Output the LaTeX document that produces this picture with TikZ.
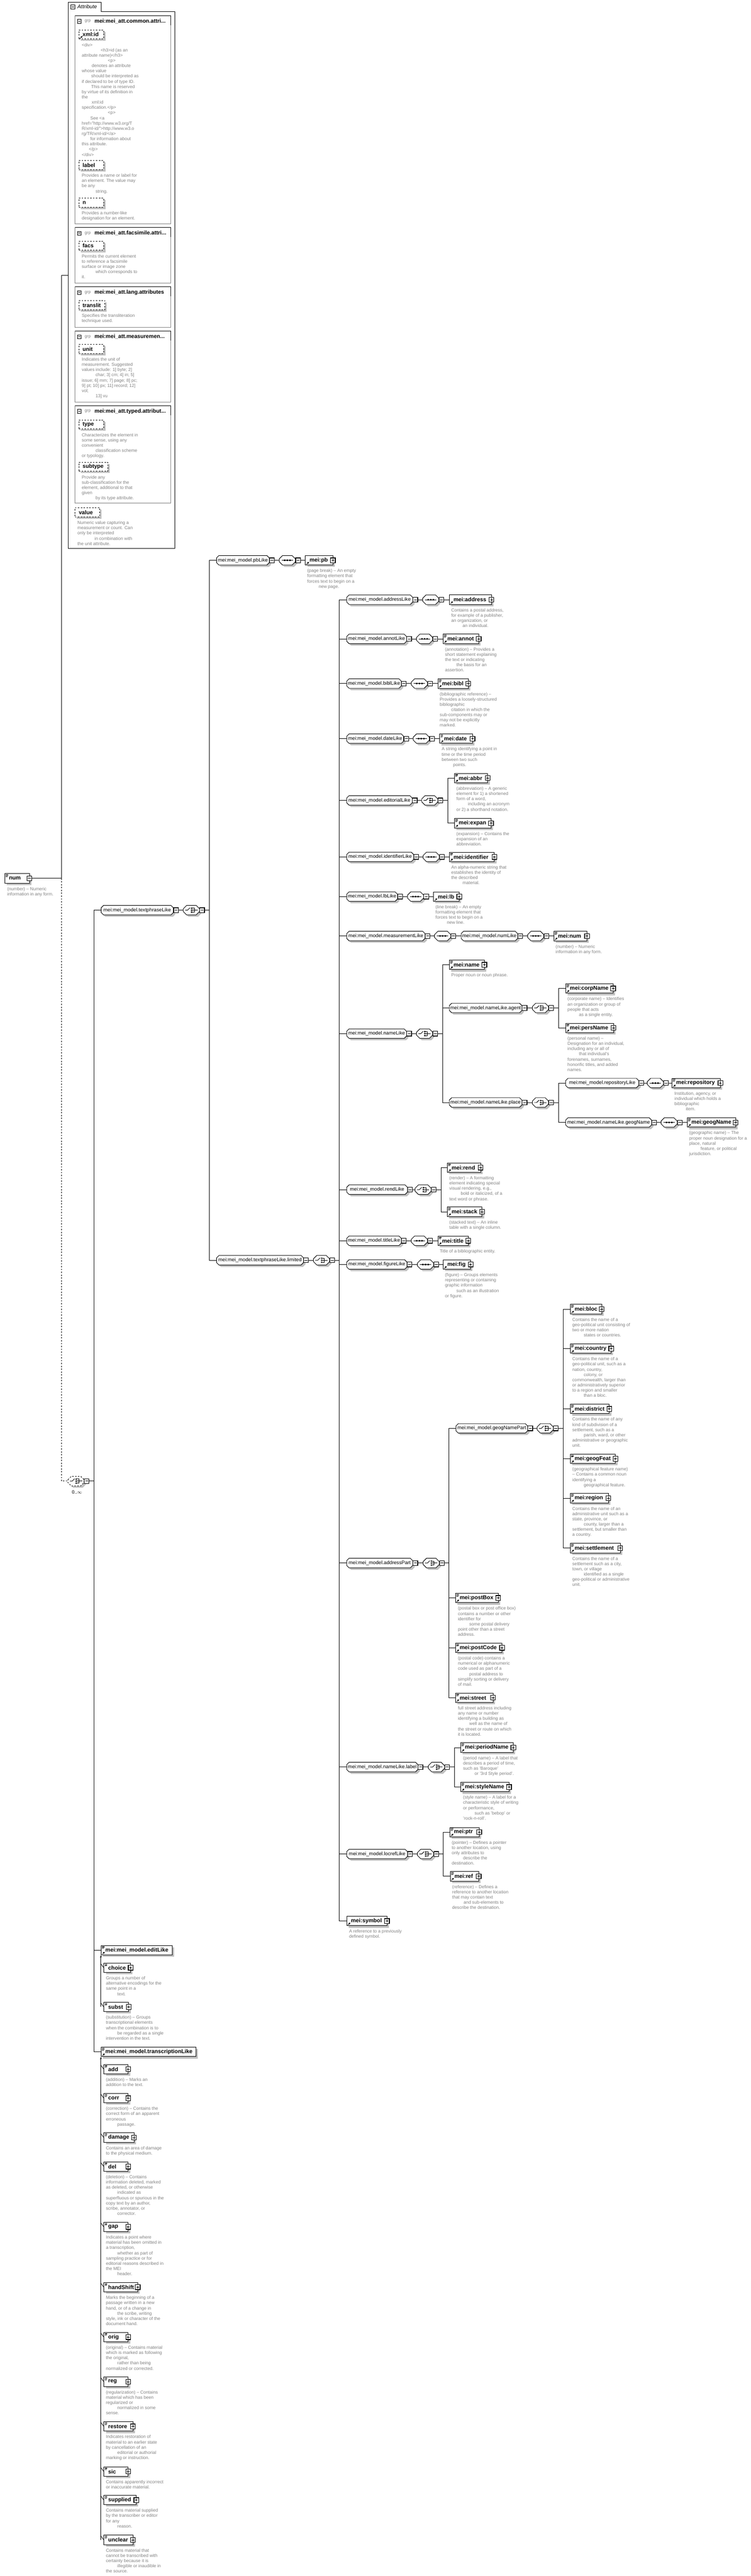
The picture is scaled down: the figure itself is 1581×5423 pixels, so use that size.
\documentclass[tikz,border=0pt]{standalone}
\usepackage{fontspec}
\setmainfont{Liberation Sans}
\usetikzlibrary{arrows.meta}
\definecolor{shd}{RGB}{192,192,192}
\definecolor{dsc}{RGB}{128,128,128}
\tikzset{
 lw/.style={line width=1pt},
 pmbox/.style={draw, line width=1.3pt, fill=white, minimum width=10pt, minimum height=10pt, inner sep=0pt},
 grpn/.style={inner sep=0pt, minimum height=20pt, font=\fontsize{10.5}{12}\selectfont},
 eln/.style={draw, line width=1pt, fill=white, inner sep=0pt, minimum height=20pt, align=left, font=\bfseries\fontsize{11.7}{13}\selectfont},
 attn/.style={draw, dashed, line width=1pt, fill=white, inner sep=0pt, minimum height=19pt, align=left, font=\bfseries\fontsize{11.5}{13}\selectfont},
 dscn/.style={inner sep=0pt, anchor=north west, align=left, text=dsc, font=\fontsize{9.3}{11}\selectfont},
}
\newcommand\ind{\hspace*{24pt}}
\newcommand\aind{\hspace*{29pt}}
\newcommand\LN[2]{\draw[lw] (#1) -- (#2);}
\newcommand\MINUS[3]{\node[pmbox] (#1) at (#2,#3) {};\draw[line width=1pt] (#2-3,#3) -- (#2+3,#3);}
\newcommand\PLUS[3]{\node[pmbox] (#1) at (#2,#3) {};\draw[line width=1pt] (#2-3,#3) -- (#2+3,#3) (#2,#3-3) -- (#2,#3+3);}
\newcommand\GRP[5]{%
 \fill[shd,shift={(4,4)}] (#2,#4-5) -- (#2+5,#4-10) -- (#3-5,#4-10) -- (#3,#4-5) -- (#3,#4+5) -- (#3-5,#4+10) -- (#2+5,#4+10) -- (#2,#4+5) -- cycle;
 \filldraw[lw,fill=white] (#2,#4-5) -- (#2+5,#4-10) -- (#3-5,#4-10) -- (#3,#4-5) -- (#3,#4+5) -- (#3-5,#4+10) -- (#2+5,#4+10) -- (#2,#4+5) -- cycle;
 \pgfmathsetmacro\ewid{#3-#2}%
 \node[grpn,minimum width=\ewid pt] (#1) at ({(#2+#3)/2},#4) {#5};
 \MINUS{#1m}{#3+5.5}{#4}}
\newcommand\COMPO[4][]{%
 \fill[shd,shift={(4,4)}] (#3,#4-3) -- (#3+7,#4-10) -- (#3+27,#4-10) -- (#3+34,#4-3) -- (#3+34,#4+3) -- (#3+27,#4+10) -- (#3+7,#4+10) -- (#3,#4+3) -- cycle;
 \filldraw[lw,fill=white,#1] (#3,#4-3) -- (#3+7,#4-10) -- (#3+27,#4-10) -- (#3+34,#4-3) -- (#3+34,#4+3) -- (#3+27,#4+10) -- (#3+7,#4+10) -- (#3,#4+3) -- cycle;
 \node[inner sep=0pt,minimum width=34pt,minimum height=20pt] (#2) at (#3+17,#4) {};
 \MINUS{#2m}{#3+39.5}{#4}}
\newcommand\SEQ[3]{\COMPO{#1}{#2}{#3}%
 \draw[lw] (#2+5,#3) -- (#2+29,#3);
 \fill (#2+10,#3-1.5) rectangle ++(3,3) (#2+15.5,#3-1.5) rectangle ++(3,3) (#2+21,#3-1.5) rectangle ++(3,3);}
\newcommand\CHO[4][]{\COMPO[#1]{#2}{#3}{#4}%
 \draw[lw] (#3+4,#4) -- (#3+9,#4) -- (#3+14,#4-5);
 \fill (#3+16,#4-5.5) rectangle ++(2.6,2.6) (#3+16,#4-1.3) rectangle ++(2.6,2.6) (#3+16,#4+2.9) rectangle ++(2.6,2.6);
 \draw[lw] (#3+19,#4-4.2) -- (#3+23,#4-4.2) -- (#3+23,#4+4.2) -- (#3+19,#4+4.2) (#3+19,#4) -- (#3+30,#4);}
\makeatletter
\newcommand\ELM[6]{%
 \fill[shd] (#2+4,#4-6) rectangle (#3+4,#4+14);
 \pgfmathsetmacro\ewid{#3-#2}%
 \node[eln,text width=\ewid pt] (#1) at ({(#2+#3)/2},#4) {\hspace*{9pt}#5};
 \in@{d}{#6}\ifin@\draw[line width=0.7pt] (#2+2,#4-8) -- (#2+7,#4-8) (#2+2,#4-6) -- (#2+7,#4-6) (#2+2,#4-4) -- (#2+6,#4-4);\fi
 \in@{a}{#6}\ifin@\draw[line width=0.9pt] (#2+2.5,#4+8.5) -- (#2+5,#4+6);\fill (#2+7.5,#4+3.5) -- (#2+3.5,#4+4.5) -- (#2+6.5,#4+7.5) -- cycle;\fi
 \in@{p}{#6}\ifin@\PLUS{#1p}{#3}{#4}\fi
 \in@{m}{#6}\ifin@\MINUS{#1p}{#3}{#4}\fi}
\newcommand\ATT[6]{%
 \fill[shd] (#2+4,#4+4) rectangle (#3+4,#4+23);
 \pgfmathsetmacro\ewid{#3-#2}%
 \node[attn,text width=\ewid pt] (#1) at ({(#2+#3)/2},#4+9.5) {\hspace*{8pt}#5};
 \in@{a}{#6}\ifin@\draw[line width=0.9pt] (#2+2.5,#4+18) -- (#2+5,#4+15.5);\fill (#2+7.5,#4+13) -- (#2+3.5,#4+14) -- (#2+6.5,#4+17) -- cycle;\fi}
\makeatother
\newcommand\DSC[4]{\node[dscn] (#1) at (#2,#3+17.3) {\strut#4};}
\newcommand\TR[3]{\draw[lw] (#2.east) -- ++(9.5,0) coordinate (#1);\foreach \c in {#3}{\draw[lw] (#1) |- (\c.west);}}
\newcommand\GB[4]{%
 \draw[lw,draw=dsc] (158,#2) rectangle (360,#3);
 \draw[lw] (158,#2) -- (360,#2) -- (360,#2+20);
 \draw[lw,fill=white] (163,#2+8) rectangle (171,#2+16);\draw[lw] (165,#2+12) -- (169,#2+12);
 \node[anchor=west,inner sep=0pt,text=dsc,font=\fontsize{9}{11}\selectfont] (#1g) at (178,#2+12) {grp};
 \node[anchor=west,inner sep=0pt,font=\bfseries\fontsize{11.5}{13}\selectfont] (#1) at (199,#2+12) {#4};}
\newcommand\SUB[5]{\ELM{#1}{219}{#2}{#3}{#4}{dp}\draw[lw] (#1.west) -- ++(-6,-8);\DSC{#1d}{223}{#3}{#5}}
\begin{document}
\begin{tikzpicture}[x=1pt,y=-1pt]
\useasboundingbox (0,0) rectangle (1581,5423);
% ---------------- attribute box
\draw[lw] (144,1155) -- (144,5) -- (213,5) -- (213,24) -- (368,24) -- (368,1155) -- cycle;
\node[inner sep=0pt,minimum width=224pt,minimum height=1150pt] (attr) at (256,580) {};
\draw[lw,fill=white] (149,10) rectangle (158,19);\draw[lw] (151,14.5) -- (156,14.5);
\node[anchor=west,inner sep=0pt,font=\itshape\fontsize{11}{13}\selectfont] (attrt) at (163,14.5) {Attribute};
\GB{g1}{33}{471}{mei:mei\_att.common.attri...}
\GB{g2}{479}{596}{mei:mei\_att.facsimile.attri...}
\GB{g3}{604}{689}{mei:mei\_att.lang.attributes}
\GB{g4}{697}{846}{mei:mei\_att.measuremen...}
\GB{g5}{854}{1059}{mei:mei\_att.typed.attribut...}
\ATT{axmlid}{166}{218}{63}{xml:id}{a}
\DSC{axmlidd}{172}{72.5}{<div>\\\hspace*{40pt}<h3>id (as an\\attribute name)</h3>\\\hspace*{55pt}<p>\\\hspace*{21pt}denotes an attribute\\whose value\\\hspace*{20pt}should be interpreted as\\if declared to be of type ID.\\\hspace*{20pt}This name is reserved\\by virtue of its definition in\\the\\\hspace*{21pt}xml:id\\specification.</p>\\\hspace*{55pt}<p>\\\hspace*{18pt}See <a\\href="http://www.w3.org/T\\R/xml-id/">http://www.w3.o\\rg/TR/xml-id/</a>\\\hspace*{18pt}for information about\\this attribute.\\\hspace*{15pt}</p>\\</div>}
\ATT{alabel}{166}{218}{338}{label}{}
\DSC{alabeld}{172}{347.5}{Provides a name or label for\\an element. The value may\\be any\\\aind string.}
\ATT{an}{166}{218}{417}{n}{}
\DSC{and}{172}{426.5}{Provides a number-like\\designation for an element.}
\ATT{afacs}{166}{218}{508}{facs}{}
\DSC{afacsd}{172}{517.5}{Permits the current element\\to reference a facsimile\\surface or image zone\\\aind which corresponds to\\it.}
\ATT{atranslit}{166}{221}{633}{translit}{}
\DSC{atranslitd}{172}{642.5}{Specifies the transliteration\\technique used.}
\ATT{aunit}{166}{218}{725}{unit}{}
\DSC{aunitd}{172}{734.5}{Indicates the unit of\\measurement. Suggested\\values include: 1] byte; 2]\\\aind char; 3] cm; 4] in; 5]\\issue; 6] mm; 7] page; 8] pc;\\9] pt; 10] px; 11] record; 12]\\vol;\\\aind 13] vu}
\ATT{atype}{166}{218}{884}{type}{}
\DSC{atyped}{172}{893.5}{Characterizes the element in\\some sense, using any\\convenient\\\aind classification scheme\\or typology.}
\ATT{asubtype}{166}{227}{973}{subtype}{}
\DSC{asubtyped}{172}{982.5}{Provide any\\sub-classification for the\\element, additional to that\\given\\\aind by its type attribute.}
\ATT{avalue}{158}{210}{1069}{value}{}
\DSC{avalued}{163}{1078.5}{Numeric value capturing a\\measurement or count. Can\\only be interpreted\\\hspace*{36pt}in combination with\\the unit attribute.}
% ---------------- root
\ELM{num}{10}{62}{1849}{num}{dm}
\DSC{numd}{15}{1849}{(number) -- Numeric\\information in any form.}
\coordinate (j1) at (129.5,580);
\coordinate (j2) at (129.5,1849);
\draw[lw] (attr.west) -- (j1) -- (j2) -- (nump.east);
\CHO[dashed]{c0}{143}{3118}
\node[inner sep=0pt,font=\fontsize{10}{12}\selectfont] (c0t) at (162,3141) {0..$\infty$};
\draw[lw,dashed] (j2) |- (c0.west);
% ---------------- first column
\GRP{tpl}{213}{365}{1916}{mei:mei\_model.textphraseLike}
\CHO{tplc}{386}{1916}
\LN{tplm.east}{tplc.west}
\ELM{edl}{213}{363}{4105.5}{mei:mei\_model.editLike}{da}
\ELM{trl}{213}{413}{4319.5}{mei:mei\_model.transcriptionLike}{da}
\TR{t0}{c0m}{tpl,edl,trl}
% ---------------- second column
\GRP{pbl}{456}{567}{1179.5}{mei:mei\_model.pbLike}
\SEQ{pbls}{588}{1179.5}
\ELM{pb}{643}{701}{1179.5}{mei:pb}{ap}
\DSC{pbd}{647}{1179.5}{(page break) -- An empty\\formatting element that\\forces text to begin on a\\\ind new page.}
\LN{pblm.east}{pbls.west}\LN{pblsm.east}{pb.west}
\GRP{tpll}{456}{639}{2653}{mei:mei\_model.textphraseLike.limited}
\CHO{tpllc}{660}{2653}
\LN{tpllm.east}{tpllc.west}
\TR{t1}{tplcm}{pbl,tpll}
% ---------------- third column
\GRP{adl}{730}{869}{1262.5}{mei:mei\_model.addressLike}
\SEQ{adls}{890}{1262.5}
\ELM{address}{946}{1035}{1262.5}{mei:address}{ap}
\DSC{addressd}{950}{1262.5}{Contains a postal address,\\for example of a publisher,\\an organization, or\\\ind an individual.}
\LN{adlm.east}{adls.west}\LN{adlsm.east}{address.west}
\GRP{anl}{730}{856}{1345}{mei:mei\_model.annotLike}
\SEQ{anls}{877}{1345}
\ELM{annot}{933}{1008}{1345}{mei:annot}{dap}
\DSC{annotd}{937}{1345}{(annotation) -- Provides a\\short statement explaining\\the text or indicating\\\ind the basis for an\\assertion.}
\LN{anlm.east}{anls.west}\LN{anlsm.east}{annot.west}
\GRP{bbl}{730}{845}{1439}{mei:mei\_model.biblLike}
\SEQ{bbls}{866}{1439}
\ELM{bibl}{922}{986}{1439}{mei:bibl}{dap}
\DSC{bibld}{926}{1439}{(bibliographic reference) --\\Provides a loosely-structured\\bibliographic\\\ind citation in which the\\sub-components may or\\may not be explicitly\\marked.}
\LN{bblm.east}{bbls.west}\LN{bblsm.east}{bibl.west}
\GRP{dtl}{730}{850}{1555}{mei:mei\_model.dateLike}
\SEQ{dtls}{870}{1555}
\ELM{date}{926}{995}{1555}{mei:date}{dap}
\DSC{dated}{930}{1555}{A string identifying a point in\\time or the time period\\between two such\\\ind points.}
\LN{dtlm.east}{dtls.west}\LN{dtlsm.east}{date.west}
\GRP{edtl}{730}{868}{1685}{mei:mei\_model.editorialLike}
\CHO{edtlc}{888}{1685}
\LN{edtlm.east}{edtlc.west}
\ELM{abbr}{957}{1027}{1638}{mei:abbr}{dap}
\DSC{abbrd}{961}{1638}{(abbreviation) -- A generic\\element for 1) a shortened\\form of a word,\\\ind including an acronym\\or 2) a shorthand notation.}
\ELM{expan}{957}{1034}{1733}{mei:expan}{dap}
\DSC{expand}{961}{1733}{(expansion) -- Contains the\\expansion of an\\abbreviation.}
\TR{t3}{edtlcm}{abbr,expan}
\GRP{idl}{730}{871}{1804}{mei:mei\_model.identifierLike}
\SEQ{idls}{891}{1804}
\ELM{ident}{946}{1041}{1804}{mei:identifier}{dap}
\DSC{identd}{950}{1804}{An alpha-numeric string that\\establishes the identity of\\the described\\\ind material.}
\LN{idlm.east}{idls.west}\LN{idlsm.east}{ident.west}
\GRP{lbl}{730}{837}{1887.5}{mei:mei\_model.lbLike}
\SEQ{lbls}{858}{1887.5}
\ELM{lb}{913}{967}{1887.5}{mei:lb}{ap}
\DSC{lbd}{917}{1887.5}{(line break) -- An empty\\formatting element that\\forces text to begin on a\\\ind new line.}
\LN{lblm.east}{lbls.west}\LN{lblsm.east}{lb.west}
\GRP{msl}{730}{895}{1970.5}{mei:mei\_model.measurementLike}
\SEQ{msls}{915}{1970.5}
\GRP{nml}{971}{1090}{1970.5}{mei:mei\_model.numLike}
\SEQ{nmls}{1111}{1970.5}
\ELM{mnum}{1166}{1236}{1970.5}{mei:num}{dap}
\DSC{mnumd}{1170}{1970.5}{(number) -- Numeric\\information in any form.}
\LN{mslm.east}{msls.west}\LN{mslsm.east}{nml.west}\LN{nmlm.east}{nmls.west}\LN{nmlsm.east}{mnum.west}
\GRP{nal}{730}{856}{2176}{mei:mei\_model.nameLike}
\CHO{nalc}{877}{2176}
\LN{nalm.east}{nalc.west}
\ELM{name}{946}{1020}{2031}{mei:name}{dap}
\DSC{named}{950}{2031}{Proper noun or noun phrase.}
\GRP{naag}{946}{1099}{2122}{mei:mei\_model.nameLike.agent}
\CHO{naagc}{1121}{2122}
\LN{naagm.east}{naagc.west}
\ELM{corp}{1191}{1291}{2081}{mei:corpName}{dap}
\DSC{corpd}{1195}{2081}{(corporate name) -- Identifies\\an organization or group of\\people that acts\\\ind as a single entity.}
\ELM{pers}{1191}{1292}{2164}{mei:persName}{dap}
\DSC{persd}{1195}{2164}{(personal name) --\\Designation for an individual,\\including any or all of\\\ind that individual's\\forenames, surnames,\\honorific titles, and added\\names.}
\TR{t5}{naagcm}{corp,pers}
\GRP{napl}{946}{1099}{2321}{mei:mei\_model.nameLike.place}
\CHO{naplc}{1121}{2321}
\LN{naplm.east}{naplc.west}
\GRP{repl}{1191}{1345}{2280}{mei:mei\_model.repositoryLike}
\SEQ{repls}{1363}{2280}
\ELM{repo}{1415}{1517}{2280}{mei:repository}{dap}
\DSC{repod}{1420}{2280}{Institution, agency, or\\individual which holds a\\bibliographic\\\ind item.}
\LN{replm.east}{repls.west}\LN{replsm.east}{repo.west}
\GRP{geol}{1191}{1372}{2363}{mei:mei\_model.nameLike.geogName}
\SEQ{geols}{1392}{2363}
\ELM{geog}{1447}{1549}{2363}{mei:geogName}{dap}
\DSC{geogd}{1451}{2363}{(geographic name) -- The\\proper noun designation for a\\place, natural\\\ind feature, or political\\jurisdiction.}
\LN{geolm.east}{geols.west}\LN{geolsm.east}{geog.west}
\TR{t6}{naplcm}{repl,geol}
\TR{t4}{nalcm}{name,naag,napl}
\GRP{rdl}{730}{858}{2504.5}{mei:mei\_model.rendLike}
\CHO{rdlc}{874}{2504.5}
\LN{rdlm.east}{rdlc.west}
\ELM{rend}{942}{1012}{2458}{mei:rend}{dap}
\DSC{rendd}{946}{2458}{(render) -- A formatting\\element indicating special\\visual rendering, e.g.,\\\ind bold or italicized, of a\\text word or phrase.}
\ELM{stack}{942}{1015}{2551}{mei:stack}{dap}
\DSC{stackd}{946}{2551}{(stacked text) -- An inline\\table with a single column.}
\TR{t7}{rdlcm}{rend,stack}
\GRP{ttl}{730}{845}{2612}{mei:mei\_model.titleLike}
\SEQ{ttls}{866}{2612}
\ELM{title}{922}{986}{2612}{mei:title}{dap}
\DSC{titled}{926}{2612}{Title of a bibliographic entity.}
\LN{ttlm.east}{ttls.west}\LN{ttlsm.east}{title.west}
\GRP{fgl}{730}{857}{2662}{mei:mei\_model.figureLike}
\SEQ{fgls}{879}{2662}
\ELM{fig}{933}{991}{2662}{mei:fig}{ap}
\DSC{figd}{937}{2662}{(figure) -- Groups elements\\representing or containing\\graphic information\\\ind such as an illustration\\or figure.}
\LN{fglm.east}{fgls.west}\LN{fglsm.east}{fig.west}
\GRP{apl}{730}{869}{3290.5}{mei:mei\_model.addressPart}
\CHO{aplc}{891}{3290.5}
\LN{aplm.east}{aplc.west}
\GRP{gnp}{960}{1111}{3007}{mei:mei\_model.geogNamePart}
\CHO{gnpc}{1131}{3007}
\LN{gnpm.east}{gnpc.west}
\ELM{bloc}{1201}{1267}{2756}{mei:bloc}{dap}
\DSC{blocd}{1205}{2756}{Contains the name of a\\geo-political unit consisting of\\two or more nation\\\ind states or countries.}
\ELM{country}{1201}{1287}{2839}{mei:country}{dap}
\DSC{countryd}{1205}{2839}{Contains the name of a\\geo-political unit, such as a\\nation, country,\\\ind colony, or\\commonwealth, larger than\\or administratively superior\\to a region and smaller\\\ind than a bloc.}
\ELM{district}{1201}{1283}{2966}{mei:district}{dap}
\DSC{districtd}{1205}{2966}{Contains the name of any\\kind of subdivision of a\\settlement, such as a\\\ind parish, ward, or other\\administrative or geographic\\unit.}
\ELM{geogfeat}{1201}{1296}{3071}{mei:geogFeat}{dap}
\DSC{geogfeatd}{1205}{3071}{(geographical feature name)\\-- Contains a common noun\\identifying a\\\ind geographical feature.}
\ELM{region}{1201}{1281}{3154}{mei:region}{dap}
\DSC{regiond}{1205}{3154}{Contains the name of an\\administrative unit such as a\\state, province, or\\\ind county, larger than a\\settlement, but smaller than\\a country.}
\ELM{settle}{1201}{1306}{3259}{mei:settlement}{dap}
\DSC{settled}{1205}{3259}{Contains the name of a\\settlement such as a city,\\town, or village\\\ind identified as a single\\geo-political or administrative\\unit.}
\TR{t9}{gnpcm}{bloc,country,district,geogfeat,region,settle}
\ELM{postbox}{959}{1049}{3364}{mei:postBox}{dap}
\DSC{postboxd}{964}{3364}{(postal box or post office box)\\contains a number or other\\identifier for\\\ind some postal delivery\\point other than a street\\address.}
\ELM{postcode}{959}{1057}{3469}{mei:postCode}{dap}
\DSC{postcoded}{964}{3469}{(postal code) contains a\\numerical or alphanumeric\\code used as part of a\\\ind postal address to\\simplify sorting or delivery\\of mail.}
\ELM{street}{959}{1038}{3574}{mei:street}{dap}
\DSC{streetd}{964}{3574}{full street address including\\any name or number\\identifying a building as\\\ind well as the name of\\the street or route on which\\it is located.}
\TR{t8}{aplcm}{gnp,postbox,postcode,street}
\GRP{nll}{730}{880}{3720}{mei:mei\_model.nameLike.label}
\CHO{nllc}{902}{3720}
\LN{nllm.east}{nllc.west}
\ELM{period}{970}{1081}{3679}{mei:periodName}{dap}
\DSC{periodd}{975}{3679}{(period name) -- A label that\\describes a period of time,\\such as 'Baroque'\\\ind or '3rd Style period'.}
\ELM{style}{970}{1072}{3762}{mei:styleName}{dap}
\DSC{styled}{975}{3762}{(style name) -- A label for a\\characteristic style of writing\\or performance,\\\ind such as 'bebop' or\\'rock-n-roll'.}
\TR{t10}{nllcm}{period,style}
\GRP{lrl}{730}{858}{3903}{mei:mei\_model.locrefLike}
\CHO{lrlc}{879}{3903}
\LN{lrlm.east}{lrlc.west}
\ELM{ptr}{947}{1009}{3857}{mei:ptr}{dap}
\DSC{ptrd}{951}{3857}{(pointer) -- Defines a pointer\\to another location, using\\only attributes to\\\ind describe the\\destination.}
\ELM{ref}{948}{1008}{3950}{mei:ref}{dap}
\DSC{refd}{952}{3950}{(reference) -- Defines a\\reference to another location\\that may contain text\\\ind and sub-elements to\\describe the destination.}
\TR{t11}{lrlcm}{ptr,ref}
\ELM{symbol}{730}{815}{4044}{mei:symbol}{ap}
\DSC{symbold}{735}{4044}{A reference to a previously\\defined symbol.}
\TR{t2}{tpllcm}{adl,anl,bbl,dtl,edtl,idl,lbl,msl,nal,rdl,ttl,fgl,apl,nll,lrl,symbol}
% ---------------- substitution groups
\SUB{choice}{275}{4142.5}{choice}{Groups a number of\\alternative encodings for the\\same point in a\\\ind text.}
\SUB{subst}{271}{4225}{subst}{(substitution) -- Groups\\transcriptional elements\\when the combination is to\\\ind be regarded as a single\\intervention in the text.}
\draw[lw,-{Stealth[length=5pt,width=4pt]}] (subst.west -| edl.south west) -- (edl.south west);
\SUB{add}{270}{4356}{add}{(addition) -- Marks an\\addition to the text.}
\SUB{corr}{270}{4417}{corr}{(correction) -- Contains the\\correct form of an apparent\\erroneous\\\ind passage.}
\SUB{damage}{282}{4500}{damage}{Contains an area of damage\\to the physical medium.}
\SUB{del}{270}{4561}{del}{(deletion) -- Contains\\information deleted, marked\\as deleted, or otherwise\\\ind indicated as\\superfluous or spurious in the\\copy text by an author,\\scribe, annotator, or\\\ind corrector.}
\SUB{gap}{270}{4688}{gap}{Indicates a point where\\material has been omitted in\\a transcription,\\\ind whether as part of\\sampling practice or for\\editorial reasons described in\\the MEI\\\ind header.}
\SUB{handshift}{290}{4815}{handShift}{Marks the beginning of a\\passage written in a new\\hand, or of a change in\\\ind the scribe, writing\\style, ink or character of the\\document hand.}
\SUB{orig}{270}{4920}{orig}{(original) -- Contains material\\which is marked as following\\the original,\\\ind rather than being\\normalized or corrected.}
\SUB{reg}{270}{5014}{reg}{(regularization) -- Contains\\material which has been\\regularized or\\\ind normalized in some\\sense.}
\SUB{restore}{280}{5108}{restore}{Indicates restoration of\\material to an earlier state\\by cancellation of an\\\ind editorial or authorial\\marking or instruction.}
\SUB{sic}{270}{5203}{sic}{Contains apparently incorrect\\or inaccurate material.}
\SUB{supplied}{287}{5263}{supplied}{Contains material supplied\\by the transcriber or editor\\for any\\\ind reason.}
\SUB{unclear}{280}{5347}{unclear}{Contains material that\\cannot be transcribed with\\certainty because it is\\\ind illegible or inaudible in\\the source.}
\draw[lw,-{Stealth[length=5pt,width=4pt]}] (unclear.west -| trl.south west) -- (trl.south west);
\end{tikzpicture}
\end{document}
